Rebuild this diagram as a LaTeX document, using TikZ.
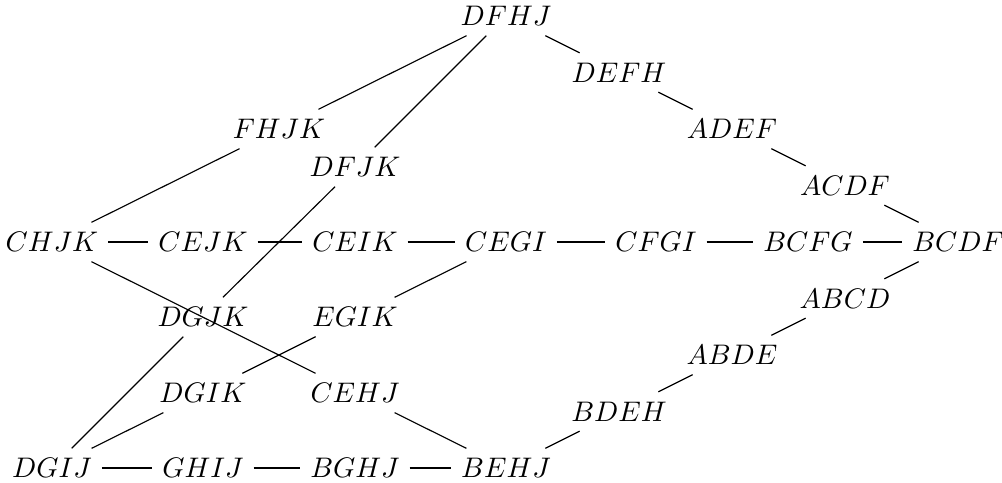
\documentclass[tikz,border=0pt]{standalone}
\begin{document}
\begin{tikzpicture}[x=0.3534pt,y=-0.3534pt,
  lbl/.style={inner sep=0.3333em},
  edge/.style={line width=0.4pt}]
\useasboundingbox (0,0) rectangle (1002,483);
\node[lbl] (DFHJ) at (506,16) {$DFHJ$};
\node[lbl] (DEFH) at (619,72.5) {$DEFH$};
\node[lbl] (ADEF) at (732,129) {$ADEF$};
\node[lbl] (ACDF) at (845,185.5) {$ACDF$};
\node[lbl] (BCDF) at (958,242) {$BCDF$};
\node[lbl] (FHJK) at (279,129) {$FHJK$};
\node[lbl] (DFJK) at (355,167) {$DFJK$};
\node[lbl] (CHJK) at (52,242) {$CHJK$};
\node[lbl] (CEJK) at (203,242) {$CEJK$};
\node[lbl] (CEIK) at (355,242) {$CEIK$};
\node[lbl] (CEGI) at (506,242) {$CEGI$};
\node[lbl] (CFGI) at (656,242) {$CFGI$};
\node[lbl] (BCFG) at (808,242) {$BCFG$};
\node[lbl] (DGJK) at (203,317) {$DGJK$};
\node[lbl] (EGIK) at (355,317) {$EGIK$};
\node[lbl] (ABCD) at (845,298.5) {$ABCD$};
\node[lbl] (ABDE) at (732,355) {$ABDE$};
\node[lbl] (DGIK) at (203,393) {$DGIK$};
\node[lbl] (CEHJ) at (355,393) {$CEHJ$};
\node[lbl] (BDEH) at (619,411.5) {$BDEH$};
\node[lbl] (DGIJ) at (52,468) {$DGIJ$};
\node[lbl] (GHIJ) at (203,468) {$GHIJ$};
\node[lbl] (BGHJ) at (355,468) {$BGHJ$};
\node[lbl] (BEHJ) at (506,468) {$BEHJ$};
\draw[edge] (DFHJ) -- (DEFH);
\draw[edge] (DEFH) -- (ADEF);
\draw[edge] (ADEF) -- (ACDF);
\draw[edge] (ACDF) -- (BCDF);
\draw[edge] (DFHJ) -- (FHJK);
\draw[edge] (DFHJ) -- (DFJK);
\draw[edge] (FHJK) -- (CHJK);
\draw[edge] (DFJK) -- (DGJK);
\draw[edge] (CHJK) -- (CEJK);
\draw[edge] (CEJK) -- (CEIK);
\draw[edge] (CEIK) -- (CEGI);
\draw[edge] (CEGI) -- (CFGI);
\draw[edge] (CFGI) -- (BCFG);
\draw[edge] (BCFG) -- (BCDF);
\draw[edge] (CHJK) -- (CEHJ);
\draw[edge] (CEGI) -- (EGIK);
\draw[edge] (EGIK) -- (DGIK);
\draw[edge] (DGJK) -- (DGIJ);
\draw[edge] (DGIK) -- (DGIJ);
\draw[edge] (DGIJ) -- (GHIJ);
\draw[edge] (GHIJ) -- (BGHJ);
\draw[edge] (BGHJ) -- (BEHJ);
\draw[edge] (CEHJ) -- (BEHJ);
\draw[edge] (BEHJ) -- (BDEH);
\draw[edge] (BDEH) -- (ABDE);
\draw[edge] (ABDE) -- (ABCD);
\draw[edge] (ABCD) -- (BCDF);
\end{tikzpicture}
\end{document}
